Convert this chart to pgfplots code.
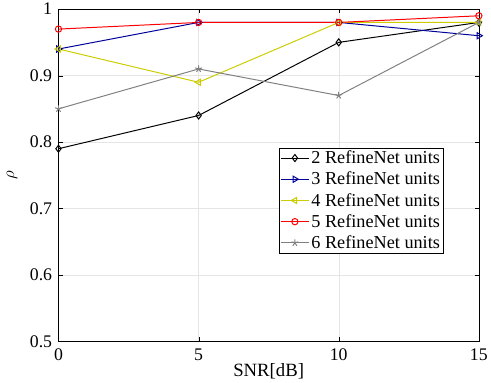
\documentclass[border=0pt]{standalone}
\usepackage{pgfplots}
\pgfplotsset{compat=1.18}
\usepackage{fontspec}
\setmainfont{Liberation Serif}
\begin{document}
\begin{tikzpicture}
\begin{axis}[
  scale only axis,
  width=425bp, height=336bp,
  xmin=0, xmax=15, ymin=0.5, ymax=1,
  xtick={0,5,10,15}, ytick={0.5,0.6,0.7,0.8,0.9,1},
  yticklabels={0.5,0.6,0.7,0.8,0.9,1},
  grid=major, grid style={gray!20},
  tick align=inside, tick style={black},
  axis line style={black},
  xlabel={SNR[dB]}, ylabel={$\rho$},
  xlabel style={yshift=4pt},
  xticklabel style={yshift=-4pt},
  ylabel style={yshift=2pt, inner sep=7pt},
  yticklabel style={xshift=-3pt},
  /pgf/number format/assume math mode=true,
  ticklabel style={font=\fontsize{18}{20}\selectfont},
  label style={font=\fontsize{19}{21}\selectfont},
  legend style={at={(0.915,0.583)}, anchor=north east, font=\fontsize{18.5}{20}\selectfont, draw=black, inner sep=1pt, row sep=3pt},
  legend cell align=left,
  legend image code/.code={\draw[mark repeat=2,mark phase=2] plot coordinates {(0cm,0cm) (0.5cm,0cm) (1cm,0cm)};},
  every axis plot/.append style={line width=1pt},
]
\addplot[black, mark=diamond, mark options={solid,scale=1.8}] coordinates {(0,0.79) (5,0.84) (10,0.95) (15,0.98)};
\addlegendentry{2 RefineNet units}
\addplot[blue!60!black, mark=triangle, mark options={rotate=-90,scale=1.8}] coordinates {(0,0.94) (5,0.98) (10,0.98) (15,0.96)};
\addlegendentry{3 RefineNet units}
\addplot[color={rgb,255:red,204;green,204;blue,0}, mark=triangle, mark options={rotate=90,scale=1.8}] coordinates {(0,0.94) (5,0.89) (10,0.98) (15,0.98)};
\addlegendentry{4 RefineNet units}
\addplot[red, mark=o, mark options={scale=1.6}] coordinates {(0,0.97) (5,0.98) (10,0.98) (15,0.99)};
\addlegendentry{5 RefineNet units}
\addplot[gray, mark=star, mark options={scale=1.8}] coordinates {(0,0.85) (5,0.91) (10,0.87) (15,0.98)};
\addlegendentry{6 RefineNet units}
\end{axis}
\end{tikzpicture}
\end{document}
